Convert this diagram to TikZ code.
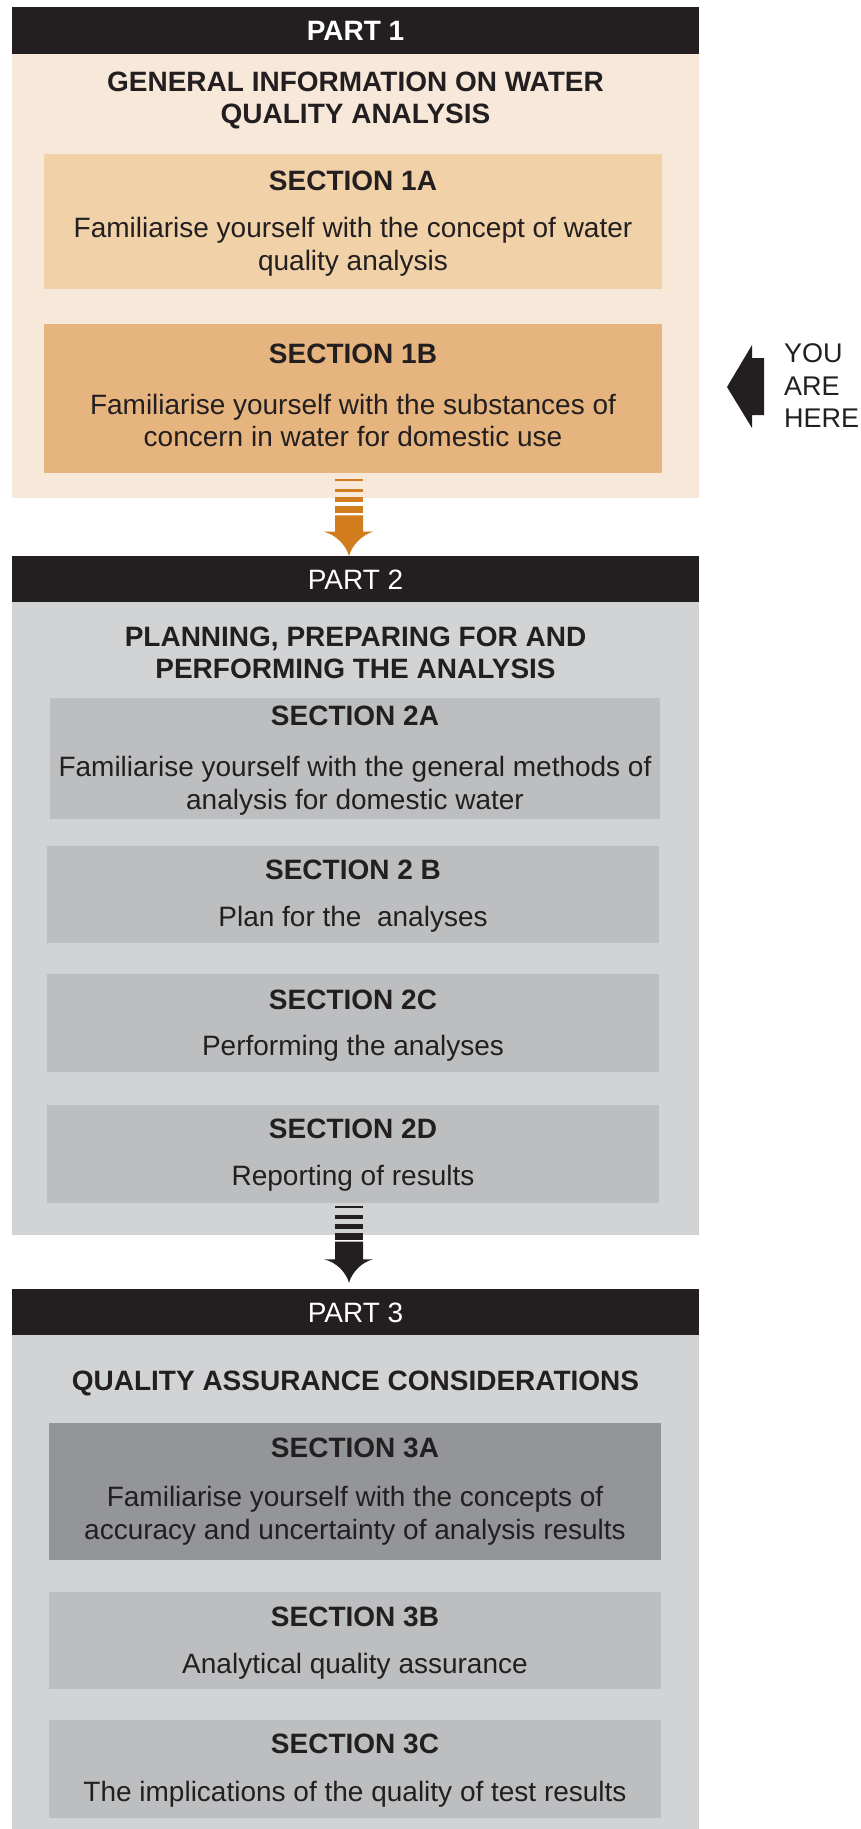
\documentclass[tikz,border=0pt]{standalone}
\usepackage{fontspec}
\setmainfont{Liberation Sans}
\definecolor{hdr}{HTML}{231F20}
\definecolor{peach}{HTML}{F8E8DA}
\definecolor{sa}{HTML}{F0D1A8}
\definecolor{sb}{HTML}{E6B47E}
\definecolor{orng}{HTML}{D17D1E}
\definecolor{gpanel}{HTML}{D1D3D4}
\definecolor{gbox}{HTML}{BCBEC0}
\definecolor{gdark}{HTML}{939598}
\begin{document}
\begin{tikzpicture}[x=1pt,y=-1pt,
  every node/.style={inner sep=0pt, outer sep=0pt, text=hdr},
  box/.style={draw=none, anchor=north west, minimum width=#1},
  hdrbox/.style={box=687pt, fill=hdr, minimum height=47pt},
  hdrtxt/.style={text=white, font=\fontsize{28}{32.7}\selectfont},
  ttl/.style={align=center, font=\fontsize{28}{32.7}\selectfont\bfseries},
  sectitle/.style={font=\fontsize{28}{32.7}\selectfont\bfseries},
  sectext/.style={align=center, font=\fontsize{28}{32.7}\selectfont},
  here/.style={anchor=base west, font=\fontsize{27}{32.7}\selectfont}
]
\fill[white] (0,0) rectangle (861,1829);
\useasboundingbox (0,0) rectangle (861,1829);

% ---------- PART 1 ----------
\node[hdrbox] (h1) at (12,7) {};
\node[hdrtxt, font=\fontsize{28}{32.7}\selectfont\bfseries] (h1t) at (h1.center) {PART 1};
\node[box=687pt, fill=peach, minimum height=444pt] (p1) at (12,54) {};
\node[ttl] (p1t) at (355.5,100.5) {GENERAL INFORMATION ON WATER\\QUALITY ANALYSIS};

\node[box=618pt, fill=sa, minimum height=135pt] (s1a) at (44,154) {};
\node[sectitle] (s1at) at (353,181) {SECTION 1A};
\node[sectext] (s1ax) at (353,246.5) {Familiarise yourself with the concept of water\\quality analysis};

\node[box=618pt, fill=sb, minimum height=149pt] (s1b) at (44,324) {};
\node[sectitle] (s1bt) at (353,354) {SECTION 1B};
\node[sectext] (s1bx) at (353,420.5) {Familiarise yourself with the substances of\\concern in water for domestic use};

% you are here
\fill[hdr] (727,387) -- (752,345) -- (752,358) -- (764,358) -- (764,415) -- (752,415) -- (752,428) -- cycle;
\node[here] (y1) at (784,362) {YOU};
\node[here] (y2) at (784,395) {ARE};
\node[here] (y3) at (784,427) {HERE};

% arrow 1
\fill[orng] (335,479.3) rectangle (363,481);
\fill[orng] (335,488.7) rectangle (363,492);
\fill[orng] (335,497.3) rectangle (363,502.3);
\fill[orng] (335,506) rectangle (363,513.3);
\fill[orng] (335,515.3) -- (363,515.3) -- (363,531.7) -- (373,531.7)
  .. controls (362,535) and (352,545) .. (349,556)
  .. controls (346,545) and (336,535) .. (324,531.7) -- (335,531.7) -- cycle;

% ---------- PART 2 ----------
\node[hdrbox] (h2) at (12,556) {};
\node[hdrtxt] (h2t) at (h2.center) {PART 2};
\node[box=687pt, fill=gpanel, minimum height=633pt] (p2) at (12,602) {};
\node[ttl] (p2t) at (355.5,653) {PLANNING, PREPARING FOR AND\\PERFORMING THE ANALYSIS};

\node[box=610pt, fill=gbox, minimum height=121pt] (s2a) at (50,698) {};
\node[sectitle] (s2at) at (355,716) {SECTION 2A};
\node[sectext] (s2ax) at (355,785.5) {Familiarise yourself with the general methods of\\analysis for domestic water};

\node[box=612pt, fill=gbox, minimum height=97pt] (s2b) at (47,846) {};
\node[sectitle] (s2bt) at (353,870) {SECTION 2 B};
\node[sectext] (s2bx) at (353,919.5) {Plan for the \ analyses};

\node[box=612pt, fill=gbox, minimum height=98pt] (s2c) at (47,974) {};
\node[sectitle] (s2ct) at (353,1000) {SECTION 2C};
\node[sectext] (s2cx) at (353,1048.5) {Performing the analyses};

\node[box=612pt, fill=gbox, minimum height=98pt] (s2d) at (47,1105) {};
\node[sectitle] (s2dt) at (353,1129) {SECTION 2D};
\node[sectext] (s2dx) at (353,1178.5) {Reporting of results};

% arrow 2
\fill[hdr] (335,1206) rectangle (363,1208);
\fill[hdr] (335,1215) rectangle (363,1218.7);
\fill[hdr] (335,1224) rectangle (363,1228.7);
\fill[hdr] (335,1233.3) rectangle (363,1240);
\fill[hdr] (335,1241.7) -- (363,1241.7) -- (363,1259.3) -- (373,1259.3)
  .. controls (362,1262) and (352,1272) .. (349,1282.7)
  .. controls (346,1272) and (336,1262) .. (324,1259.3) -- (335,1259.3) -- cycle;

% ---------- PART 3 ----------
\node[hdrbox] (h3) at (12,1289) {};
\node[hdrtxt] (h3t) at (h3.center) {PART 3};
\node[box=687pt, fill=gpanel, minimum height=494pt] (p3) at (12,1335) {};
\node[ttl] (p3t) at (355.5,1383) {QUALITY ASSURANCE CONSIDERATIONS};

\node[box=612pt, fill=gdark, minimum height=137pt] (s3a) at (49,1423) {};
\node[sectitle] (s3at) at (355,1448) {SECTION 3A};
\node[sectext] (s3ax) at (355,1515.5) {Familiarise yourself with the concepts of\\accuracy and uncertainty of analysis results};

\node[box=612pt, fill=gbox, minimum height=97pt] (s3b) at (49,1592) {};
\node[sectitle] (s3bt) at (355,1617) {SECTION 3B};
\node[sectext] (s3bx) at (355,1666.5) {Analytical quality assurance};

\node[box=612pt, fill=gbox, minimum height=98pt] (s3c) at (49,1720) {};
\node[sectitle] (s3ct) at (355,1744) {SECTION 3C};
\node[sectext] (s3cx) at (355,1794.5) {The implications of the quality of test results};
\end{tikzpicture}
\end{document}
